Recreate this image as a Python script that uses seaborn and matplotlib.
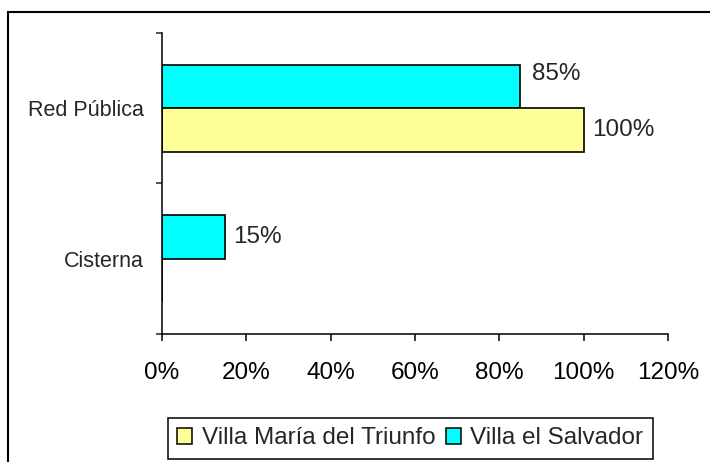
import matplotlib
matplotlib.use('Agg')
import matplotlib.pyplot as plt
import seaborn as sns
import pandas as pd
from matplotlib.ticker import PercentFormatter, FixedLocator, NullFormatter
from matplotlib.patches import Patch, Rectangle

# datos
categorias = ['Red Pública', 'Cisterna']
distritos = ['Villa María del Triunfo', 'Villa el Salvador']
vmt = [100, 0]
ves = [85, 15]
colores = {'Villa María del Triunfo': '#FFFF99', 'Villa el Salvador': '#00FFFF'}

df = pd.DataFrame({
    'lugar': categorias * 2,
    'distrito': [distritos[0]] * 2 + [distritos[1]] * 2,
    'pct': vmt + ves,
})

sns.set_style('ticks')
plt.rcParams['font.family'] = ['Liberation Sans', 'DejaVu Sans']

fig, ax = plt.subplots(figsize=(7.1, 4.62), dpi=100)
fig.subplots_adjust(left=0.2282, right=0.9408, top=0.9286, bottom=0.2771)

sns.barplot(data=df, y='lugar', x='pct', hue='distrito',
            order=categorias, hue_order=distritos[::-1],
            palette=colores, saturation=1, orient='h', width=0.58,
            edgecolor='black', linewidth=1.2, errorbar=None,
            legend=False, ax=ax)

# etiquetas de datos (sin la de valor cero)
for i, cont in enumerate(ax.containers):
    etiquetas = [f'{v:.0f}%' if v > 0 else '' for v in cont.datavalues]
    txt = ax.bar_label(cont, labels=etiquetas, padding=6, fontsize=17.5)
    if i == 0:
        txt[0].xyann = (8, 9)

ax.set_xlim(0, 120)
ax.set_xticks(range(0, 121, 20))
ax.xaxis.set_major_formatter(PercentFormatter(decimals=0))
ax.tick_params(axis='x', length=5, width=1.1, pad=15.5, labelsize=17.5,
               direction='out', colors='black')

ax.set_ylim(1.5, -0.5)
ax.yaxis.set_major_locator(FixedLocator([-0.5, 0.5, 1.5]))
ax.yaxis.set_major_formatter(NullFormatter())
ax.set_yticks([0, 1], labels=categorias, minor=True)
ax.tick_params(axis='y', which='major', length=4.5, width=1.1, direction='out')
ax.tick_params(axis='y', which='minor', length=0, pad=13, labelsize=15.5)

ax.set_xlabel('')
ax.set_ylabel('')
sns.despine(ax=ax)
for s in ['left', 'bottom']:
    ax.spines[s].set_linewidth(1.1)
    ax.spines[s].set_color('black')

handles = [Patch(facecolor=colores[d], edgecolor='black', linewidth=1.1, label=d)
           for d in distritos]
leg = fig.legend(handles=handles, loc='center', bbox_to_anchor=(0.578, 0.051),
                 ncol=2, frameon=True, fancybox=False, edgecolor='black',
                 framealpha=1, fontsize=17.5, handlelength=0.6, handleheight=0.6,
                 handletextpad=0.4, columnspacing=0.45, borderpad=0.38)
leg.get_frame().set_linewidth(1.1)

# marco exterior del area del grafico
fig.add_artist(Rectangle((8 / 710, -0.5), 2, 1 - 12 / 462 + 0.5,
                         transform=fig.transFigure, fill=False,
                         edgecolor='black', linewidth=1.5))

fig.savefig('out.png', dpi=100)
